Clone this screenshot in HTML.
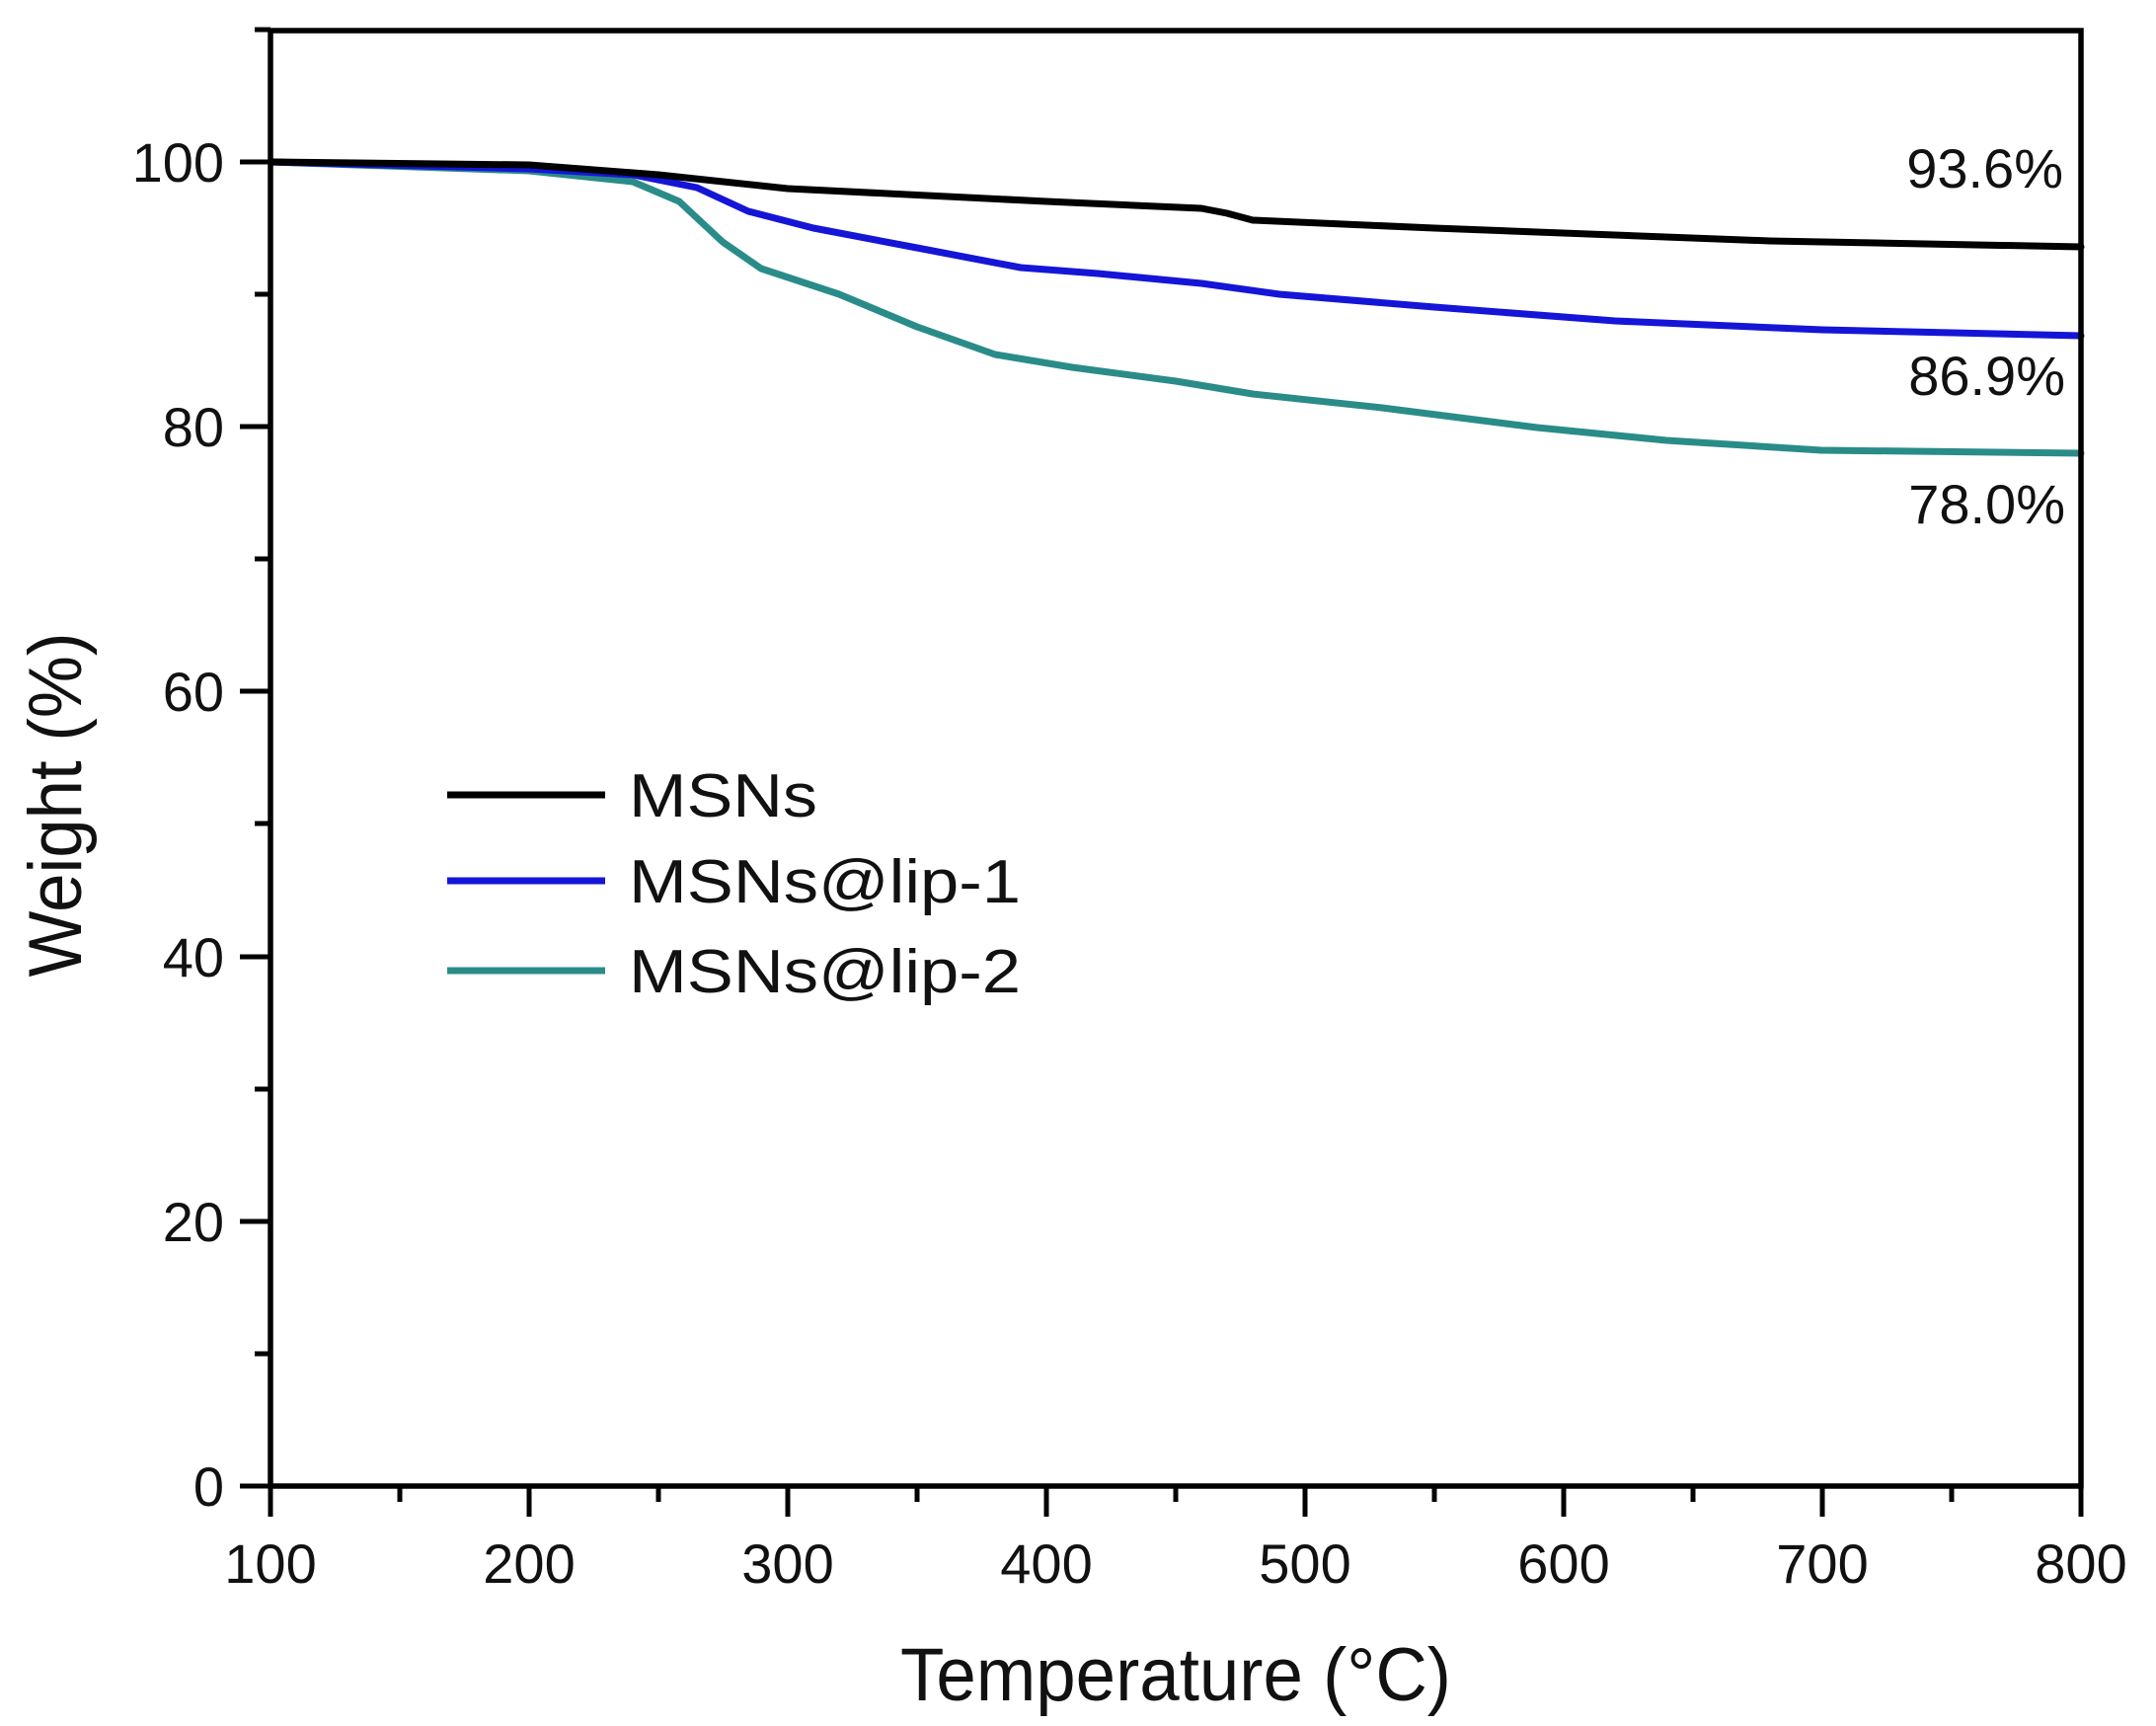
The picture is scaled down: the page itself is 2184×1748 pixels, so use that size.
<!DOCTYPE html>
<html><head><meta charset="utf-8"><style>html,body{margin:0;padding:0;background:#fff}svg{display:block}</style></head>
<body>
<svg width="2184" height="1748" viewBox="0 0 2184 1748" xmlns="http://www.w3.org/2000/svg" font-family="Liberation Sans, Arial, sans-serif">
<rect width="2184" height="1748" fill="#fff"/>
<g fill="none" stroke-linejoin="round" stroke-linecap="round" stroke-width="7">
<polyline stroke="#2a8c88" points="274,164 536,173 641,184 688,204 732,245 771,272 850,298 929,331 1008,359 1086,372 1191,386 1269,399 1400,413 1557,433 1688,446 1845,456 2108,459"/>
<polyline stroke="#1515d8" points="274,164 536,171 641,177 706,190 758,214 824,231 929,251 1034,271 1112,277 1217,287 1296,298 1453,311 1636,325 1846,334 2108,340"/>
<polyline stroke="#000" points="274,164 536,167 667,177 798,191 1060,204 1217,211 1243,216 1269,223 1453,231 1793,244 2108,250"/>
</g>
<g stroke="#000" stroke-width="5.5" fill="none">
<rect x="274" y="31" width="1834" height="1474"/>
</g>
<g stroke="#000" stroke-width="5">
<line x1="274" y1="1505" x2="274" y2="1536"/><line x1="405" y1="1505" x2="405" y2="1521"/>
<line x1="536" y1="1505" x2="536" y2="1536"/><line x1="667" y1="1505" x2="667" y2="1521"/>
<line x1="798" y1="1505" x2="798" y2="1536"/><line x1="929" y1="1505" x2="929" y2="1521"/>
<line x1="1060" y1="1505" x2="1060" y2="1536"/><line x1="1191" y1="1505" x2="1191" y2="1521"/>
<line x1="1322" y1="1505" x2="1322" y2="1536"/><line x1="1453" y1="1505" x2="1453" y2="1521"/>
<line x1="1584" y1="1505" x2="1584" y2="1536"/><line x1="1715" y1="1505" x2="1715" y2="1521"/>
<line x1="1846" y1="1505" x2="1846" y2="1536"/><line x1="1977" y1="1505" x2="1977" y2="1521"/>
<line x1="2108" y1="1505" x2="2108" y2="1536"/>
<line x1="243" y1="1505" x2="274" y2="1505"/><line x1="258" y1="1371" x2="274" y2="1371"/>
<line x1="243" y1="1237" x2="274" y2="1237"/><line x1="258" y1="1103" x2="274" y2="1103"/>
<line x1="243" y1="969" x2="274" y2="969"/><line x1="258" y1="834" x2="274" y2="834"/>
<line x1="243" y1="700" x2="274" y2="700"/><line x1="258" y1="566" x2="274" y2="566"/>
<line x1="243" y1="432" x2="274" y2="432"/><line x1="258" y1="298" x2="274" y2="298"/>
<line x1="243" y1="164" x2="274" y2="164"/><line x1="258" y1="30" x2="274" y2="30"/>
</g>
<g font-size="56" fill="#111" text-anchor="middle">
<text x="274" y="1603">100</text><text x="536" y="1603">200</text><text x="798" y="1603">300</text>
<text x="1060" y="1603">400</text><text x="1322" y="1603">500</text><text x="1584" y="1603">600</text>
<text x="1846" y="1603">700</text><text x="2108" y="1603">800</text>
</g>
<g font-size="56" fill="#111" text-anchor="end">
<text x="227" y="1525">0</text><text x="227" y="1257">20</text><text x="227" y="989">40</text>
<text x="227" y="720">60</text><text x="227" y="452">80</text><text x="227" y="184">100</text>
</g>
<text x="912" y="1722" font-size="76" fill="#111" textLength="558" lengthAdjust="spacingAndGlyphs">Temperature (°C)</text>
<text transform="translate(82,815) rotate(-90)" text-anchor="middle" font-size="76" fill="#111" textLength="349" lengthAdjust="spacingAndGlyphs">Weight (%)</text>
<g font-size="56" fill="#111" text-anchor="end">
<text x="2090" y="190">93.6%</text><text x="2092" y="400">86.9%</text><text x="2092" y="530">78.0%</text>
</g>
<g stroke-width="7">
<line x1="453" y1="805" x2="613" y2="805" stroke="#000"/>
<line x1="453" y1="892" x2="613" y2="892" stroke="#1515d8"/>
<line x1="453" y1="983" x2="613" y2="983" stroke="#2a8c88"/>
</g>
<g font-size="62" fill="#111">
<text x="637" y="827" textLength="191" lengthAdjust="spacingAndGlyphs">MSNs</text>
<text x="637" y="914" textLength="397" lengthAdjust="spacingAndGlyphs">MSNs@lip-1</text>
<text x="637" y="1005" textLength="397" lengthAdjust="spacingAndGlyphs">MSNs@lip-2</text>
</g>
</svg>
</body></html>
